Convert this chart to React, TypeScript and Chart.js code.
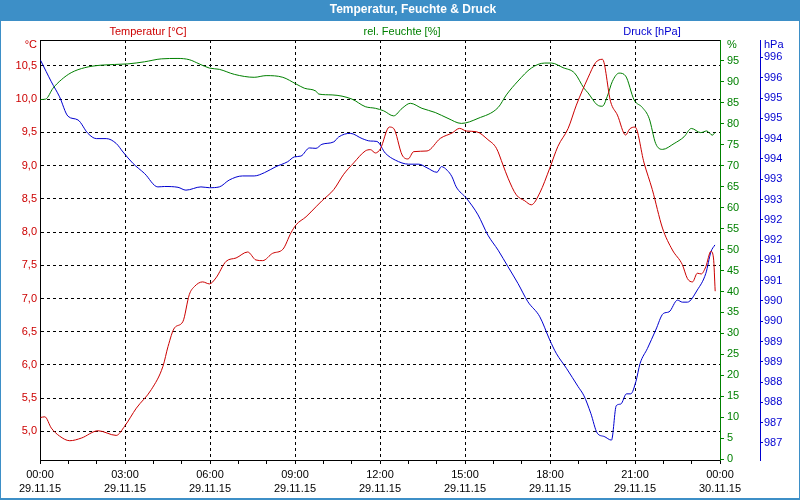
import { useEffect, useRef } from 'react';
import { Chart, registerables } from 'chart.js';

Chart.register(...registerables);

// ---- data (hours since 29.11.15 00:00) ----
const TEMP_HOURS = [0.02,0.17,0.4,0.69,1.05,1.46,2.05,2.69,2.99,3.4,3.93,4.34,4.52,4.75,5.04,5.27,5.45,5.74,5.98,6.21,6.57,6.92,7.33,7.62,7.86,8.21,8.57,8.86,9.04,9.39,9.74,9.95,10.37,10.72,11.07,11.48,11.66,11.84,12.01,12.33,12.48,12.78,12.99,13.19,13.66,14.13,14.54,14.81,15.05,15.4,15.81,16.11,16.34,16.52,16.81,17.11,17.34,17.64,17.99,18.28,18.64,18.93,19.34,19.61,19.85,20.14,20.38,20.67,20.81,21.0,21.32,21.61,21.97,22.32,22.67,22.85,23.03,23.2,23.34,23.5,23.68,23.77,23.83];
const TEMP_VALUES = [5.21,5.22,5.05,4.93,4.86,4.90,5.01,4.94,5.08,5.35,5.63,5.98,6.28,6.56,6.65,7.06,7.18,7.25,7.22,7.31,7.56,7.61,7.70,7.58,7.57,7.68,7.74,7.99,8.11,8.23,8.38,8.47,8.64,8.87,9.04,9.22,9.24,9.19,9.25,9.58,9.56,9.16,9.10,9.21,9.22,9.41,9.49,9.56,9.52,9.51,9.39,9.26,9.01,8.81,8.56,8.47,8.41,8.59,8.96,9.29,9.56,9.91,10.32,10.55,10.60,9.96,9.76,9.46,9.55,9.58,9.04,8.64,8.06,7.73,7.51,7.30,7.25,7.38,7.37,7.48,7.71,7.61,7.11];

const HUM_HOURS = [0.02,0.2,0.46,0.75,1.1,1.58,2.16,3.1,3.69,4.28,4.87,5.27,5.62,5.98,6.33,6.86,7.56,7.98,8.57,9.04,9.33,9.74,9.84,10.31,11.01,11.48,11.84,12.13,12.48,12.78,13.07,13.48,13.95,14.4,14.87,15.46,16.17,16.46,16.87,17.34,17.81,18.05,18.46,18.87,19.2,19.34,19.67,19.85,20.02,20.2,20.44,20.67,20.97,21.26,21.5,21.73,21.97,22.38,22.73,22.99,23.32,23.53,23.73,23.83];
const HUM_VALUES = [85.8,85.9,88.5,90.5,92.2,93.4,94.0,94.3,94.8,95.5,95.6,95.3,94.3,93.3,93.0,91.8,91.1,91.5,91.1,89.5,88.5,87.8,87.1,86.9,85.9,84.1,83.7,83.1,81.9,83.7,84.9,83.7,82.7,81.3,80.1,81.3,83.9,86.9,90.2,93.3,94.5,94.5,93.4,92.1,88.5,87.4,84.5,84.2,86.5,90.1,92.1,91.4,85.7,83.9,81.3,75.3,73.9,75.3,76.9,78.9,77.9,78.3,77.3,78.0];

const PRES_HOURS = [0.02,0.22,0.4,0.69,0.99,1.34,1.69,1.99,2.34,2.69,2.93,3.28,3.69,4.16,4.4,4.87,5.15,5.68,5.98,6.33,6.68,7.15,7.56,7.92,8.33,8.74,8.98,9.21,9.51,9.74,9.95,10.37,10.54,10.95,11.37,11.66,11.89,12.19,12.54,13.01,13.37,13.66,14.01,14.17,14.37,14.54,14.69,15.05,15.46,15.81,16.17,16.52,16.87,17.22,17.64,17.99,18.22,18.58,18.99,19.2,19.44,19.67,19.91,20.17,20.34,20.5,20.7,20.85,21.03,21.18,21.44,21.73,22.0,22.2,22.5,22.67,22.85,23.2,23.5,23.68,23.82];
const PRES_VALUES = [995.93,995.65,995.40,995.03,994.55,994.46,994.13,994.0,994.0,993.88,993.67,993.39,993.14,992.81,992.82,992.80,992.73,992.81,992.79,992.81,992.98,993.08,993.08,993.16,993.31,993.43,993.55,993.57,993.77,993.76,993.86,993.92,994.04,994.13,994.0,993.94,993.93,993.64,993.47,993.37,993.37,993.28,993.17,993.31,993.22,993.06,992.81,992.53,992.12,991.62,991.25,990.84,990.43,989.98,989.61,989.04,988.71,988.34,987.89,987.66,987.23,986.74,986.66,986.57,987.42,987.46,987.71,987.71,988.01,988.46,988.83,989.28,989.69,989.73,990.02,989.97,989.97,990.27,990.68,991.21,991.38];

// ---- tick labels ----
const HOUR_TICKS = [0,1,2,3,4,5,6,7,8,9,10,11,12,13,14,15,16,17,18,19,20,21,22,23,24];
const TIME_LABELS = ['00:00','03:00','06:00','09:00','12:00','15:00','18:00','21:00','00:00'];
const DATE_LABELS = ['29.11.15','29.11.15','29.11.15','29.11.15','29.11.15','29.11.15','29.11.15','29.11.15','30.11.15'];
const TEMP_TICKS = [5.0,5.5,6.0,6.5,7.0,7.5,8.0,8.5,9.0,9.5,10.0,10.5];
const HUM_TICKS = [0,5,10,15,20,25,30,35,40,45,50,55,60,65,70,75,80,85,90,95];
const PRES_TICKS = [986.5,987,987.5,988,988.5,989,989.5,990,990.5,991,991.5,992,992.5,993,993.5,994,994.5,995,995.5,996];

const TITLE = 'Temperatur, Feuchte & Druck';
const SERIES_NAMES = ['Temperatur [°C]', 'rel. Feuchte [%]', 'Druck [hPa]'];
const UNITS = ['°C', '%', 'hPa'];

const RED = '#cc0000';
const GREEN = '#008000';
const BLUE = '#0000d0';
const FRAME = '#3d8fc7';
const FONT = "'Liberation Sans', Arial, sans-serif";

const pts = (xs: number[], ys: number[]) => xs.map((x, i) => ({ x, y: ys[i] }));

const decor = {
  id: 'decor',
  beforeDraw(chart: any) {
    const ctx = chart.ctx as CanvasRenderingContext2D;
    const W = chart.width, H = chart.height;
    ctx.save();
    ctx.fillStyle = '#ffffff';
    ctx.fillRect(0, 0, W, H);
    ctx.fillStyle = FRAME;
    ctx.fillRect(0, 0, W, 21);
    ctx.fillRect(0, 0, 1, H);
    ctx.fillRect(W - 1, 0, 1, H);
    ctx.fillRect(0, H - 2, W, 2);
    ctx.textBaseline = 'middle';
    ctx.fillStyle = '#ffffff';
    ctx.font = `bold 12px ${FONT}`;
    ctx.textAlign = 'center';
    ctx.fillText(TITLE, 413, 10);
    ctx.font = `11px ${FONT}`;
    ctx.fillStyle = RED;
    ctx.fillText(SERIES_NAMES[0], 148, 32);
    ctx.fillStyle = GREEN;
    ctx.fillText(SERIES_NAMES[1], 402, 32);
    ctx.fillStyle = BLUE;
    ctx.fillText(SERIES_NAMES[2], 652, 32);
    ctx.textAlign = 'right';
    ctx.fillStyle = RED;
    ctx.fillText(UNITS[0], 37, 45);
    ctx.textAlign = 'left';
    ctx.fillStyle = GREEN;
    ctx.fillText(UNITS[1], 727, 45);
    ctx.fillStyle = BLUE;
    ctx.fillText(UNITS[2], 764, 45);
    ctx.restore();
  },
  afterDraw(chart: any) {
    const ctx = chart.ctx as CanvasRenderingContext2D;
    const a = chart.chartArea;
    ctx.save();
    ctx.strokeStyle = '#000000';
    ctx.lineWidth = 1;
    ctx.beginPath();
    ctx.moveTo(a.left, a.top + 0.5);
    ctx.lineTo(a.right, a.top + 0.5);
    ctx.stroke();
    ctx.restore();
  },
};

export default function App() {
  const ref = useRef<HTMLCanvasElement>(null);
  useEffect(() => {
    document.body.style.margin = '0';
    Chart.defaults.font.family = FONT;
    const chart = new Chart(ref.current as HTMLCanvasElement, {
      type: 'line',
      data: {
        datasets: [
          { label: SERIES_NAMES[0], data: pts(TEMP_HOURS, TEMP_VALUES), yAxisID: 'yT', borderColor: RED, borderWidth: 1, pointRadius: 0, cubicInterpolationMode: 'monotone', fill: false },
          { label: SERIES_NAMES[1], data: pts(HUM_HOURS, HUM_VALUES), yAxisID: 'yH', borderColor: GREEN, borderWidth: 1, pointRadius: 0, cubicInterpolationMode: 'monotone', fill: false },
          { label: SERIES_NAMES[2], data: pts(PRES_HOURS, PRES_VALUES), yAxisID: 'yP', borderColor: BLUE, borderWidth: 1, pointRadius: 0, cubicInterpolationMode: 'monotone', fill: false },
        ],
      } as any,
      options: {
        responsive: false,
        maintainAspectRatio: false,
        devicePixelRatio: 1,
        animation: false,
        layout: { padding: { top: 40, left: 0, right: 0, bottom: 0 } },
        plugins: { legend: { display: false }, tooltip: { enabled: false }, title: { display: false } },
        scales: {
          x: {
            type: 'linear',
            min: 0,
            max: 24,
            afterBuildTicks: (s: any) => { s.ticks = HOUR_TICKS.map((v) => ({ value: v })); },
            afterFit: (s: any) => { s.height = 40; },
            ticks: {
              autoSkip: false,
              maxRotation: 0,
              minRotation: 0,
              color: '#000000',
              padding: 3,
              font: { size: 11, lineHeight: 1.36 },
              callback: (value: any) => {
                const v = Number(value);
                if (v % 3 !== 0) return '';
                const i = v / 3;
                return [TIME_LABELS[i], DATE_LABELS[i]];
              },
            },
            grid: {
              drawOnChartArea: true,
              drawTicks: true,
              tickLength: 4,
              tickColor: '#000000',
              lineWidth: 1,
              color: (c: any) => {
                const v = c.tick ? c.tick.value : -1;
                return v % 3 === 0 && v !== 0 && v !== 24 ? '#000000' : 'rgba(0,0,0,0)';
              },
            },
            border: { display: true, color: '#000000', width: 1, dash: [3, 3] },
          },
          yT: {
            type: 'linear',
            position: 'left',
            min: 4.57,
            max: 10.89,
            afterBuildTicks: (s: any) => { s.ticks = TEMP_TICKS.map((v) => ({ value: v })); },
            afterFit: (s: any) => { s.width = 40; },
            ticks: {
              color: RED,
              padding: 3,
              font: { size: 11 },
              callback: (v: any) => Number(v).toFixed(1).replace('.', ','),
            },
            grid: { drawOnChartArea: true, drawTicks: false, color: '#000000', lineWidth: 1 },
            border: { display: true, color: '#000000', width: 1, dash: [3, 3] },
          },
          yH: {
            type: 'linear',
            position: 'right',
            weight: 0,
            min: -0.2,
            max: 100,
            afterBuildTicks: (s: any) => { s.ticks = HUM_TICKS.map((v) => ({ value: v })); },
            afterFit: (s: any) => { s.width = 40; },
            ticks: { color: GREEN, padding: 3, font: { size: 11 }, callback: (v: any) => String(v) },
            grid: { drawOnChartArea: false, drawTicks: true, tickLength: 4, tickColor: GREEN, color: GREEN },
            border: { display: true, color: GREEN, width: 1 },
          },
          yP: {
            type: 'linear',
            position: 'right',
            weight: 1,
            min: 986.08,
            max: 996.43,
            afterBuildTicks: (s: any) => { s.ticks = PRES_TICKS.map((v) => ({ value: v })); },
            afterFit: (s: any) => { s.width = 40; },
            ticks: { color: BLUE, padding: 1, font: { size: 11 }, callback: (v: any) => String(Math.round(Number(v))) },
            grid: { drawOnChartArea: false, drawTicks: true, tickLength: 3, tickColor: BLUE, color: BLUE },
            border: { display: true, color: BLUE, width: 1 },
          },
        },
      } as any,
      plugins: [decor],
    });
    return () => chart.destroy();
  }, []);
  return (
    <div style={{ width: 800, height: 500 }}>
      <canvas ref={ref} width={800} height={500} style={{ display: 'block' }} />
    </div>
  );
}
